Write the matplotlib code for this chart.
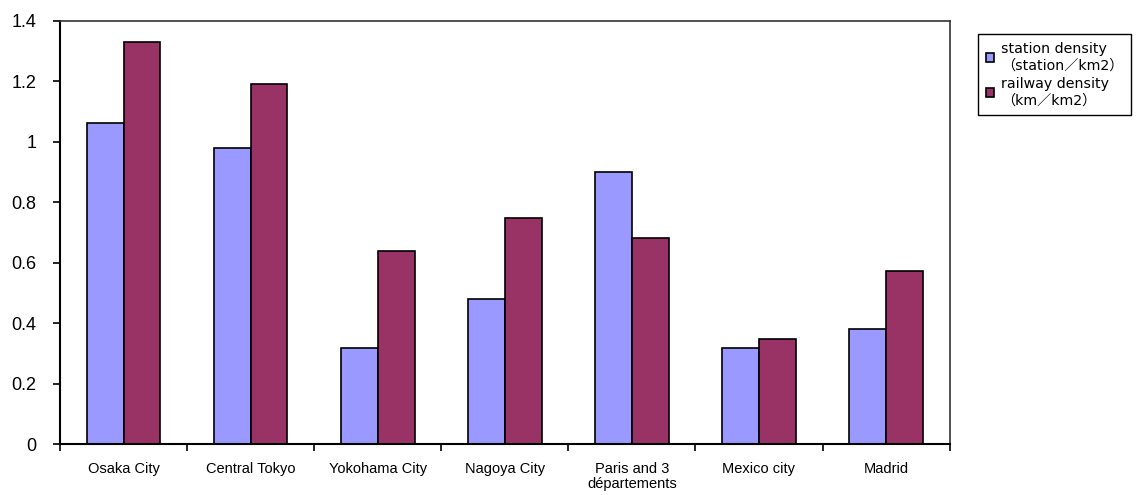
import matplotlib.pyplot as plt
import numpy as np

cities = ['Osaka City', 'Central Tokyo', 'Yokohama City', 'Nagoya City',
          'Paris and 3\ndépartements', 'Mexico city', 'Madrid']
station_density = [1.063, 0.98, 0.319, 0.481, 0.90, 0.319, 0.381]
railway_density = [1.331, 1.19, 0.64, 0.747, 0.681, 0.347, 0.573]

plt.rcParams['font.family'] = ['Liberation Sans', 'DejaVu Sans']

fig = plt.figure(figsize=(11.39, 4.95), dpi=100)
ax = fig.add_axes([0.0527, 0.103, 0.781, 0.8546])

x = np.arange(len(cities))
w = 0.29
ax.bar(x - w / 2, station_density, w, color='#9999FF', edgecolor='black', linewidth=1.2,
       label='station density\n（station／km2）')
ax.bar(x + w / 2, railway_density, w, color='#993366', edgecolor='black', linewidth=1.2,
       label='railway density\n（km／km2）')

ax.set_xlim(-0.5, len(cities) - 0.5)
ax.set_ylim(0, 1.4)
ax.set_yticks(np.arange(0, 1.41, 0.2))
ax.set_yticklabels(['0', '0.2', '0.4', '0.6', '0.8', '1', '1.2', '1.4'], fontsize=13)
ax.set_xticks(x)
ax.set_xticklabels(cities, fontsize=10.5, linespacing=1.1)
ax.set_xticks(np.arange(-0.5, len(cities)), minor=True)
ax.tick_params(axis='x', which='major', length=0, pad=13)
ax.tick_params(axis='x', which='minor', length=5, width=1.2, direction='out')
ax.tick_params(axis='y', length=5, width=1.2, direction='out', pad=12)

for s in ['top', 'right']:
    ax.spines[s].set_color('#333333')
    ax.spines[s].set_linewidth(1.2)
for s in ['left', 'bottom']:
    ax.spines[s].set_color('black')
    ax.spines[s].set_linewidth(1.5)

leg = fig.legend(loc='upper left', bbox_to_anchor=(0.8585, 0.931), borderaxespad=0,
                 fancybox=False, edgecolor='black', framealpha=1,
                 handlelength=0.6, handleheight=0.6, handletextpad=0.5,
                 borderpad=0.55, labelspacing=0.35,
                 prop={'family': ['DejaVu Sans', 'Noto Sans CJK JP'], 'size': 10.2})
leg.get_frame().set_linewidth(1.0)
for t in leg.get_texts():
    t.set_linespacing(1.2)

fig.savefig('out.png', dpi=100)
